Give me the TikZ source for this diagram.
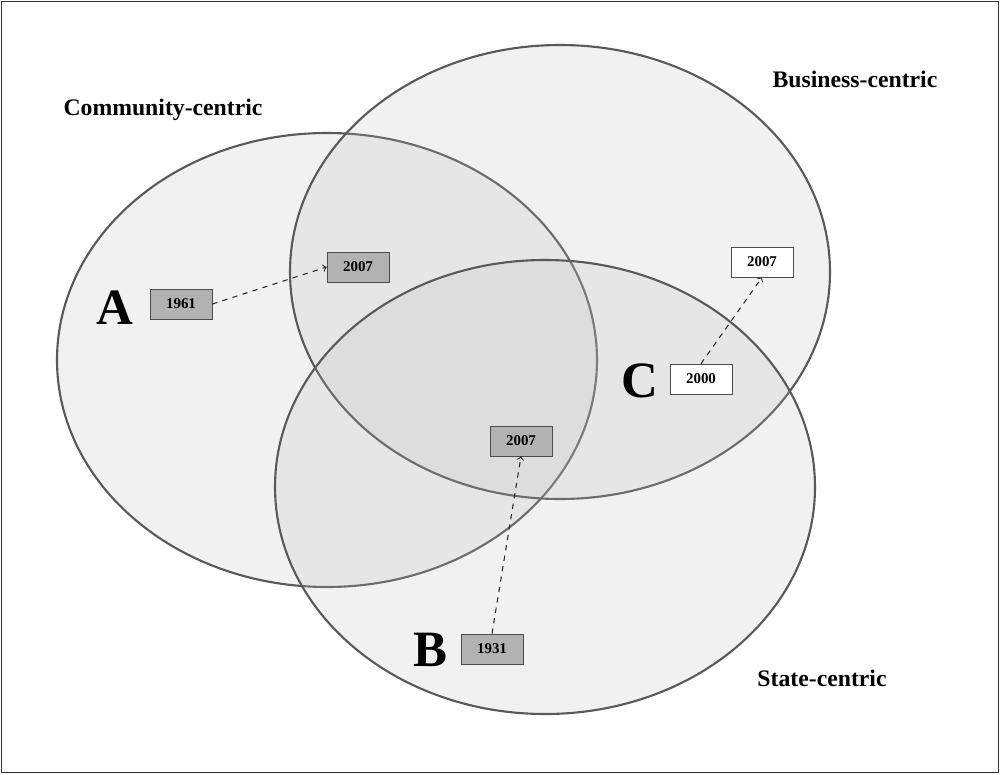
\documentclass[tikz,border=0pt]{standalone}
\usepackage{fontspec}
\setmainfont{Liberation Serif}
\begin{document}
\begin{tikzpicture}[x=0.02cm,y=-0.02cm,
  circ/.style={fill=gray!55,fill opacity=0.2,draw=black!65,line width=1.2pt},
  yr/.style={draw=black!70,minimum width=62*0.02cm,minimum height=30*0.02cm,inner sep=0pt,font=\fontsize{8.5}{10}\selectfont\bfseries},
  dk/.style={yr,fill=black!30},
  lt/.style={yr,fill=white},
  big/.style={font=\fontsize{29}{31}\selectfont\bfseries},
  ttl/.style={font=\fontsize{13.5}{15}\selectfont\bfseries},
  arr/.style={->,dashed,black!85,line width=0.6pt}]
\useasboundingbox (0,0) rectangle (1000,774);
\node[draw=black!80,line width=0.8pt,minimum width=997*0.02cm,minimum height=771*0.02cm,inner sep=0pt] (frame) at (500,387) {};
\draw[circ] (327,360) ellipse [x radius=270,y radius=227];
\draw[circ] (560,272) ellipse [x radius=270,y radius=227];
\draw[circ] (545,487) ellipse [x radius=270,y radius=227];
\node[ttl] (ct) at (163,110) {Community-centric};
\node[ttl] (bt) at (855,79) {Business-centric};
\node[ttl] (st) at (822,678) {State-centric};
\node[big] (A) at (115,308) {A};
\node[big] (B) at (430,650) {B};
\node[big] (C) at (640,381) {C};
\node[dk] (a1) at (181,304) {1961};
\node[dk] (a2) at (358,267) {2007};
\node[dk] (b2) at (521,441) {2007};
\node[dk] (b1) at (492,649) {1931};
\node[lt] (c1) at (701,379) {2000};
\node[lt] (c2) at (762,262) {2007};
\draw[arr] (a1.east) -- (a2.west);
\draw[arr] (b1.north) -- (b2.south);
\draw[arr] (c1.north) -- (c2.south);
\end{tikzpicture}
\end{document}
